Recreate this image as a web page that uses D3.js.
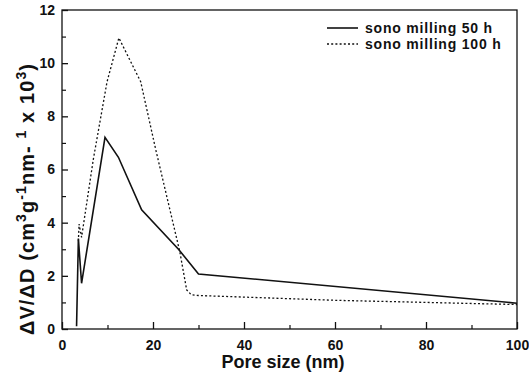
<!DOCTYPE html>
<html>
<head>
<meta charset="utf-8">
<script src="https://cdn.jsdelivr.net/npm/d3@7"></script>
<style>
  html, body { margin: 0; padding: 0; background: #fff; }
  svg { display: block; font-family: Arial, "Liberation Sans", Helvetica, sans-serif; font-weight: bold; }
</style>
</head>
<body>
<svg id="chart" width="529" height="378"></svg>
<script>
// Pore size distribution after sono milling (BJH dV/dD)
const poreSize50 = [3.2, 3.6, 4.3, 9.45, 12.4, 17.5, 25.6, 30, 100];
const dVdD50     = [0.1, 3.4, 1.72, 7.21, 6.46, 4.48, 3.0, 2.07, 0.97];

const poreSize100 = [3.6, 3.75, 4.3, 6.9, 9.9, 12.5, 17.3, 20.6, 25.9, 27.4, 28.4, 30, 60, 100];
const dVdD100     = [3.3, 3.95, 3.45, 6.4, 9.3, 10.95, 9.3, 6.75, 2.9, 1.47, 1.29, 1.26, 1.08, 0.92];

const seriesNames = ["sono milling 50 h", "sono milling 100 h"];
const xTicks = [0, 20, 40, 60, 80, 100];
const yTicks = [0, 2, 4, 6, 8, 10, 12];
const xMinor = [10, 30, 50, 70, 90];
const yMinor = [1, 3, 5, 7, 9, 11];

const svg = d3.select("#chart");
const plotLeft = 62, plotRight = 517, plotTop = 10, plotBottom = 329;

const x = d3.scaleLinear().domain([0, 100]).range([plotLeft, plotRight]);
const y = d3.scaleLinear().domain([0, 12]).range([plotBottom, plotTop]);

// frame
svg.append("rect")
  .attr("x", plotLeft).attr("y", plotTop)
  .attr("width", plotRight - plotLeft).attr("height", plotBottom - plotTop)
  .attr("fill", "none").attr("stroke", "#111").attr("stroke-width", 1.3);

// bottom axis: inward ticks, labels below
const xAxis = svg.append("g").attr("transform", `translate(0,${plotBottom})`)
  .call(d3.axisBottom(x).tickValues(xTicks).tickSize(-7).tickPadding(11).tickFormat(d3.format("d")));
xAxis.select(".domain").remove();
xAxis.selectAll("line").attr("stroke", "#111").attr("stroke-width", 1.3);
xAxis.selectAll("text").attr("font-size", 14).attr("font-weight", "bold").attr("fill", "#111")
  .attr("font-family", "Arial, 'Liberation Sans', sans-serif");

const xAxisMinor = svg.append("g").attr("transform", `translate(0,${plotBottom})`)
  .call(d3.axisBottom(x).tickValues(xMinor).tickSize(-4).tickFormat(""));
xAxisMinor.select(".domain").remove();
xAxisMinor.selectAll("line").attr("stroke", "#111").attr("stroke-width", 1.2);

// left axis
const yAxis = svg.append("g").attr("transform", `translate(${plotLeft},0)`)
  .call(d3.axisLeft(y).tickValues(yTicks).tickSize(-6).tickPadding(7).tickFormat(d3.format("d")));
yAxis.select(".domain").remove();
yAxis.selectAll("line").attr("stroke", "#111").attr("stroke-width", 1.3);
yAxis.selectAll("text").attr("font-size", 14).attr("font-weight", "bold").attr("fill", "#111")
  .attr("font-family", "Arial, 'Liberation Sans', sans-serif");

const yAxisMinor = svg.append("g").attr("transform", `translate(${plotLeft},0)`)
  .call(d3.axisLeft(y).tickValues(yMinor).tickSize(-4).tickFormat(""));
yAxisMinor.select(".domain").remove();
yAxisMinor.selectAll("line").attr("stroke", "#111").attr("stroke-width", 1.2);

// series
const line = d3.line().x(d => x(d[0])).y(d => y(d[1]));
const pts50 = poreSize50.map((v, i) => [v, dVdD50[i]]);
const pts100 = poreSize100.map((v, i) => [v, dVdD100[i]]);

svg.append("path").datum(pts100)
  .attr("d", line).attr("fill", "none")
  .attr("stroke", "#111").attr("stroke-width", 1.3)
  .attr("stroke-dasharray", "2,2.2");

svg.append("path").datum(pts50)
  .attr("d", line).attr("fill", "none")
  .attr("stroke", "#111").attr("stroke-width", 1.6)
  .attr("stroke-linejoin", "miter");

// legend
const legend = svg.append("g");
const legendRows = [
  { name: seriesNames[0], dash: null, w: 1.6, ly: 28, ty: 32.5 },
  { name: seriesNames[1], dash: "2,2.2", w: 1.3, ly: 44, ty: 48.5 }
];
legendRows.forEach(r => {
  legend.append("line")
    .attr("x1", 327).attr("x2", 358).attr("y1", r.ly).attr("y2", r.ly)
    .attr("stroke", "#111").attr("stroke-width", r.w)
    .attr("stroke-dasharray", r.dash);
  legend.append("text")
    .attr("x", 365).attr("y", r.ty)
    .attr("font-size", 14).attr("letter-spacing", 0.8).attr("fill", "#111")
    .text(r.name);
});

// axis titles
svg.append("text")
  .attr("x", 283).attr("y", 368)
  .attr("text-anchor", "middle").attr("font-size", 18).attr("fill", "#111")
  .text("Pore size (nm)");

const yt = svg.append("text")
  .attr("transform", "translate(34,199) rotate(-90)")
  .attr("text-anchor", "middle").attr("font-size", 20)
  .attr("letter-spacing", 1.1).attr("fill", "#111");
yt.append("tspan").text("\u0394V/\u0394D (cm");
yt.append("tspan").attr("dy", -8).attr("font-size", 14).text("3");
yt.append("tspan").attr("dy", 8).text("g");
yt.append("tspan").attr("dy", -8).attr("font-size", 14).text("-1");
yt.append("tspan").attr("dy", 8).text("nm- ");
yt.append("tspan").attr("dy", -8).attr("font-size", 14).text("1");
yt.append("tspan").attr("dy", 8).text(" x 10");
yt.append("tspan").attr("dy", -8).attr("font-size", 14).text("3");
yt.append("tspan").attr("dy", 8).text(")");
</script>
</body>
</html>
